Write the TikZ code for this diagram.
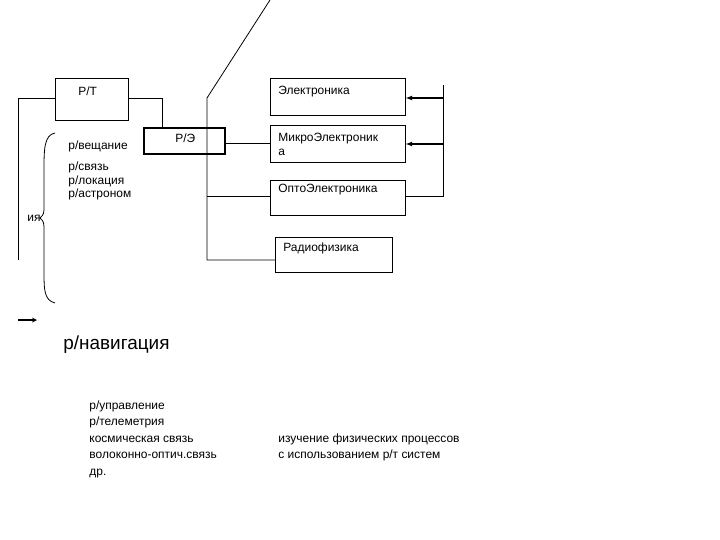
\documentclass[tikz,border=0pt]{standalone}
\usepackage{fontspec}
\setmainfont{Liberation Sans}
\usetikzlibrary{decorations.pathreplacing}
\begin{document}
\begin{tikzpicture}[x=1bp,y=-1bp,line width=0.8bp,
  bx/.style={draw,minimum width=#1,inner sep=0,anchor=north west},
  lbl/.style={font=\fontsize{12}{14}\selectfont,inner sep=0,anchor=west},
  arr/.style={-latex,line width=1.2bp}]
\useasboundingbox (0,0) rectangle (720,540);
\node[bx=73bp,minimum height=42bp] (rt) at (55,78) {};
\node[lbl] at (78,91) {Р/Т};
\node[bx=81bp,minimum height=26bp,line width=2bp] (re) at (143,127) {};
\node[lbl] at (175,138) {Р/Э};
\node[bx=135bp,minimum height=37bp] (el) at (270,78) {};
\node[lbl] at (278,92) {Электроника};
\node[bx=135bp,minimum height=37bp] (mi) at (270,125) {};
\node[lbl,align=left,anchor=north west] at (278,133) {МикроЭлектроник\\а};
\node[bx=135bp,minimum height=35bp] (op) at (270,180) {};
\node[lbl] at (278,190) {ОптоЭлектроника};
\node[bx=117bp,minimum height=35bp] (ra) at (275,237) {};
\node[lbl] at (283,248) {Радиофизика};
\coordinate (a) at (18,98); \coordinate (b) at (18,260);
\draw (b) -- (a) -- (rt.west|-a);
\draw (rt.east|-a) -- (162,98) -- (re.north-|162,0);
\draw (el.west|-98,0) -- (207,98) -- (207,260) -- (ra.west|-0,260);
\draw (re.east|-0,143) -- (mi.west|-0,143);
\draw (207,196) -- (op.west|-0,196);
\draw (op.east|-0,196) -- (443,196) -- (443,85);
\draw[arr] (443,98) -- (el.east|-0,98);
\draw[arr] (443,144) -- (mi.east|-0,144);
\draw (55,133) .. controls (44,135) and (44,150) .. (44,170) -- (44,205) .. controls (44,214) .. (40,218)
  .. controls (44,222) .. (44,232) -- (44,270) .. controls (44,290) and (44,300) .. (55,303);
\node[lbl] at (27,218) {ия};
\draw[arr,-stealth] (18,320) -- (37,320);
\node[lbl] at (68,146) {р/вещание};
\node[lbl,align=left,anchor=north west] at (68,161) {р/связь\\р/локация\\р/астроном};
\node[lbl,font=\fontsize{19}{22}\selectfont] at (63,345) {р/навигация};
\node[lbl,align=left,anchor=north west,font=\fontsize{12}{16.6}\selectfont] at (89,400) {р/управление\\р/телеметрия\\космическая связь\\волоконно-оптич.связь\\др.};
\node[lbl,align=left,anchor=north west,font=\fontsize{12}{16.6}\selectfont] at (278,433) {изучение физических процессов\\с использованием р/т систем};
\end{tikzpicture}
\end{document}
